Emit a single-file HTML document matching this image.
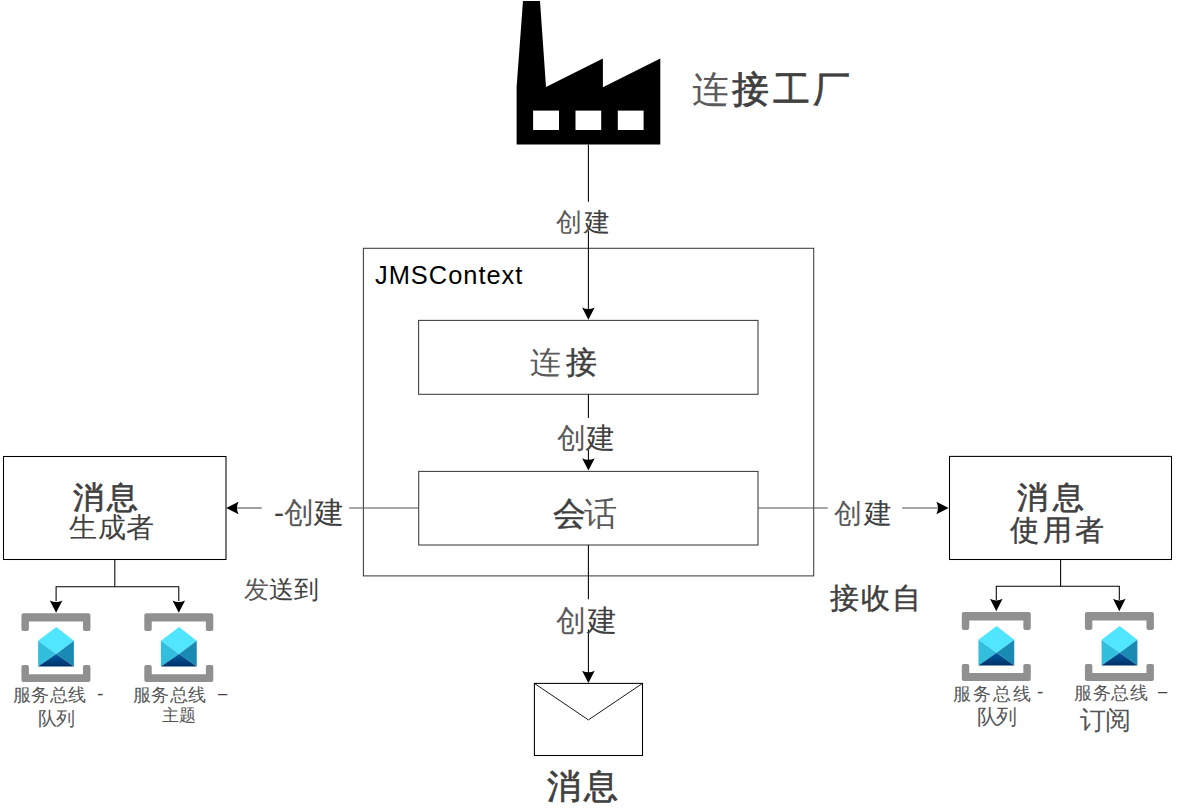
<!DOCTYPE html>
<html><head><meta charset="utf-8">
<style>
html,body{margin:0;padding:0;background:#fff;}
body{width:1181px;height:811px;position:relative;overflow:hidden;font-family:"Liberation Sans",sans-serif;color:#404040;}
svg.bg{position:absolute;left:0;top:0;}
.t{position:absolute;white-space:nowrap;line-height:1;}
.b{-webkit-text-stroke:0.7px #404040;}
.m{-webkit-text-stroke:0.4px #404040;}
.l{color:#5a5a5a;}
</style></head><body>
<svg class="bg" width="1181" height="811" viewBox="0 0 1181 811">
<defs>
<linearGradient id="gb" x1="0" y1="0" x2="0" y2="1">
<stop offset="0" stop-color="#005ba1"/><stop offset="1" stop-color="#003067"/>
</linearGradient>
<g id="sb">
<path d="M0 2 Q0 0 2 0 H67 Q69 0 69 2 V16 Q69 17.8 67.2 17.8 H63.35 Q61.55 17.8 61.55 16 V8.4 H7.45 V16 Q7.45 17.8 5.65 17.8 H1.8 Q0 17.8 0 16 Z" fill="#909090"/>
<path d="M0 53.7 Q0 51.9 1.8 51.9 H5.65 Q7.45 51.9 7.45 53.7 V61 H61.55 V53.7 Q61.55 51.9 63.35 51.9 H67.2 Q69 51.9 69 53.7 V66.8 Q69 68.8 67 68.8 H2 Q0 68.8 0 66.8 Z" fill="#909090"/>
<polygon points="34.8,13.9 52.45,27.6 34.8,40.7 16.65,27.6" fill="#50e6ff"/>
<polygon points="16.65,27.6 34.8,40.7 16.65,53.4" fill="#32bedd"/>
<polygon points="52.45,27.6 34.8,40.7 52.45,53.4" fill="#198ab3"/>
<polygon points="16.65,53.4 34.8,40.7 52.45,53.4" fill="url(#gb)"/>
</g>
<path id="ad" d="M-6.3 -12.35 Q0 -9.2 6.3 -12.35 L0 0 Z"/>
</defs>
<!-- factory -->
<polygon points="523,1 540,1 546,87 602.9,58.5 602.9,87.3 660.3,58.5 660.3,144.4 516.6,144.4 516.6,87" fill="#000"/>
<rect x="533.1" y="110.6" width="25.9" height="19.4" fill="#fff"/>
<rect x="575.5" y="110.6" width="25.7" height="19.4" fill="#fff"/>
<rect x="617.8" y="110.6" width="25.8" height="19.4" fill="#fff"/>

<g fill="none" stroke="#3c3c3c" stroke-width="1.05">
<rect x="363.4" y="248.3" width="450.3" height="327.6"/>
<rect x="418.6" y="320.4" width="339.4" height="73.9"/>
<rect x="418.7" y="471.4" width="339.3" height="73.6"/>
</g>
<g fill="none" stroke="#000" stroke-width="1.05">
<rect x="3.5" y="456.5" width="222.5" height="103"/>
<rect x="949.5" y="456.4" width="222" height="103.1"/>
<rect x="534.4" y="683.4" width="108.1" height="72.1"/>
<polyline points="534.4,683.4 588.4,719.9 642.5,683.4" stroke-width="0.9"/>
<line x1="588.4" y1="144.4" x2="588.4" y2="201.7"/>
<line x1="588.4" y1="230.8" x2="588.4" y2="310"/>
<line x1="588.4" y1="394.3" x2="588.4" y2="418"/>
<line x1="588.4" y1="450" x2="588.4" y2="460"/>
<line x1="588.4" y1="545" x2="588.4" y2="599.2"/>
<line x1="588.4" y1="629.5" x2="588.4" y2="673"/>
<polyline points="114.8,559.5 114.8,586.7"/>
<polyline points="56.1,601 56.1,586.7 178.8,586.7 178.8,601"/>
<polyline points="1060.6,559.5 1060.6,586.3"/>
<polyline points="996.3,600 996.3,586.3 1119.3,586.3 1119.3,600"/>
</g>
<g fill="none" stroke="#505050" stroke-width="1.1">
<line x1="418.7" y1="508" x2="349.2" y2="508"/>
<line x1="261.7" y1="508" x2="237" y2="508"/>
<line x1="758" y1="508" x2="827.8" y2="508"/>
<line x1="902.1" y1="508" x2="937.5" y2="508"/>
</g>
<g fill="#000">
<use href="#ad" transform="translate(588.4,319.8)"/>
<use href="#ad" transform="translate(588.4,470.6)"/>
<use href="#ad" transform="translate(588.4,683.1)"/>
<use href="#ad" transform="translate(56.1,612.8)"/>
<use href="#ad" transform="translate(178.8,612.8)"/>
<use href="#ad" transform="translate(996.3,611.2)"/>
<use href="#ad" transform="translate(1119.3,611.2)"/>
<use href="#ad" transform="translate(226.2,508) rotate(90)"/>
<use href="#ad" transform="translate(948.7,508) rotate(-90)"/>
</g>
<use href="#sb" x="21.45" y="613.2"/>
<use href="#sb" x="144.3" y="613.2"/>
<use href="#sb" x="961.8" y="612.1"/>
<use href="#sb" x="1084.9" y="612.1"/>
</svg>

<div class="t" style="left:375.00px;top:263.00px;font-size:25.41px;letter-spacing:1.00px;color:#000;">JMSContext</div>
<div class="t" style="left:692.00px;top:72.00px;font-size:36.50px;letter-spacing:3.34px;"><span class="l">连</span><span class="b">接工厂</span></div>
<div class="t" style="left:556.00px;top:209.00px;font-size:26.00px;letter-spacing:2.00px;"><span class="l">创</span>建</div>
<div class="t" style="left:530.00px;top:347.00px;font-size:31.18px;letter-spacing:5.00px;"><span class="l">连</span><span class="m">接</span></div>
<div class="t" style="left:557.00px;top:424.00px;font-size:29.08px;"><span class="l">创</span>建</div>
<div class="t" style="left:553.00px;top:497.00px;font-size:33.00px;letter-spacing:-2.00px;"><span class="m">会</span><span class="l">话</span></div>
<div class="t" style="left:284.00px;top:498.00px;font-size:30.15px;"><span class="l">创</span>建</div>
<div class="t" style="left:834.00px;top:500.00px;font-size:28.00px;letter-spacing:2.00px;"><span class="l">创</span>建</div>
<div class="t" style="left:73.00px;top:482.00px;font-size:31.24px;letter-spacing:3.00px;"><span class="b">消息</span></div>
<div class="t" style="left:69.00px;top:513.00px;font-size:28.17px;letter-spacing:0.50px;">生成者</div>
<div class="t" style="left:1017.00px;top:482.00px;font-size:31.24px;letter-spacing:5.00px;"><span class="b">消息</span></div>
<div class="t" style="left:1010.00px;top:516.00px;font-size:29.00px;letter-spacing:3.50px;"><span class="m">使用者</span></div>
<div class="t" style="left:244.00px;top:577.00px;font-size:25.00px;"><span class="l">发</span>送到</div>
<div class="t" style="left:830.00px;top:584.00px;font-size:29.00px;letter-spacing:2.00px;"><span class="m">接收自</span></div>
<div class="t" style="left:556.00px;top:606.00px;font-size:30.07px;letter-spacing:1.00px;"><span class="l">创</span>建</div>
<div class="t" style="left:547.00px;top:769.00px;font-size:34.00px;letter-spacing:3.00px;"><span class="b">消息</span></div>
<div class="t" style="left:13.00px;top:687.00px;font-size:17.53px;letter-spacing:0.33px;color:#555;">服务总线</div>
<div class="t" style="left:38.00px;top:709.50px;font-size:18.50px;letter-spacing:-1.00px;color:#555;">队列</div>
<div class="t" style="left:133.00px;top:687.00px;font-size:17.53px;letter-spacing:0.33px;color:#555;">服务总线</div>
<div class="t" style="left:162.00px;top:707.50px;font-size:16.96px;color:#555;">主题</div>
<div class="t" style="left:953.00px;top:686.00px;font-size:17.94px;letter-spacing:1.88px;color:#555;">服务总线</div>
<div class="t" style="left:977.00px;top:706.00px;font-size:21.05px;letter-spacing:-2.00px;color:#555;">队列</div>
<div class="t" style="left:1074.00px;top:685.00px;font-size:17.53px;letter-spacing:0.54px;color:#555;">服务总线</div>
<div class="t" style="left:1080.00px;top:707.00px;font-size:26.41px;letter-spacing:-1.00px;color:#555;">订阅</div>
<div class="t" style="left:97.00px;top:684.00px;font-size:19.00px;">-</div>
<div class="t" style="left:218.00px;top:685.00px;font-size:16.50px;">–</div>
<div class="t" style="left:1037.00px;top:682.00px;font-size:19.00px;">-</div>
<div class="t" style="left:1158.00px;top:683.00px;font-size:16.50px;">–</div>
<div class="t" style="left:274.00px;top:498.00px;font-size:30.00px;">-</div>
</body></html>
